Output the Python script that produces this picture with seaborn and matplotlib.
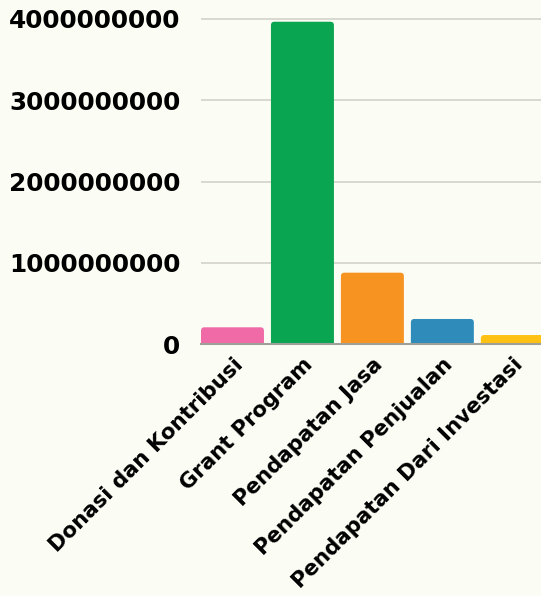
import matplotlib
matplotlib.use("Agg")
import matplotlib.pyplot as plt
import seaborn as sns
import pandas as pd
from matplotlib.ticker import FixedLocator, FuncFormatter
from matplotlib.patches import FancyBboxPatch

categories = ["Donasi dan Kontribusi", "Grant Program", "Pendapatan Jasa",
              "Pendapatan Penjualan", "Pendapatan Dari Investasi"]
values = [209000000, 3963000000, 880000000, 311000000, 114000000]
colors = ["#f06aa7", "#09a550", "#f79421", "#2e8bba", "#ffc214"]
yticks = [0, 1000000000, 2000000000, 3000000000, 4000000000]

bg = "#fbfcf4"
sns.set_theme(style="white")
plt.rcParams['font.family'] = ['DejaVu Sans']

df = pd.DataFrame({"cat": categories, "val": values})

fig = plt.figure(figsize=(5.41, 5.96), dpi=100, facecolor=bg)
ax = fig.add_axes([201/541, (596-344.3)/596, 1-201/541, 344.3/596])
ax.set_facecolor(bg)

sns.barplot(data=df, x="cat", y="val", hue="cat", palette=colors, legend=False,
            width=0.9, ax=ax, zorder=3, linewidth=0, saturation=1)

ax.set_xlim(-0.45, 4.41)
ax.set_ylim(0, 4.23e9)

# rounded top corners
fig.canvas.draw()
bbox = ax.get_window_extent()
xpp = (4.41 + 0.45) / bbox.width
ypp = 4.23e9 / bbox.height
r_px = 3.5
for p in list(ax.patches):
    x0, w, h = p.get_x(), p.get_width(), p.get_height()
    fc = p.get_facecolor()
    p.set_visible(False)
    rb = FancyBboxPatch((x0, -r_px * ypp * 2), w, h + r_px * ypp * 2,
                        boxstyle=f"round,pad=0,rounding_size={r_px * xpp}",
                        mutation_aspect=ypp / xpp, facecolor=fc,
                        linewidth=0, zorder=3, clip_on=True)
    ax.add_patch(rb)

ax.yaxis.set_major_locator(FixedLocator(yticks))
ax.yaxis.set_major_formatter(FuncFormatter(lambda v, p: f"{int(round(v))}"))
ax.grid(axis="y", color="#d3d3cc", linewidth=1.2, zorder=0)
ax.grid(axis="x", visible=False)
for s in ["top", "right", "left"]:
    ax.spines[s].set_visible(False)
ax.spines["bottom"].set_color("#a0a09a")
ax.spines["bottom"].set_linewidth(1.5)
ax.spines["bottom"].set_zorder(4)

ax.set_xlabel("")
ax.set_ylabel("")
ax.tick_params(axis="y", length=0, pad=15, labelsize=17.8, labelcolor="black")
ax.tick_params(axis="x", length=0, pad=7, labelsize=15.3, labelcolor="black")
for t in ax.get_yticklabels():
    t.set_fontweight("bold")
for t in ax.get_xticklabels():
    t.set_fontweight("bold")
    t.set_rotation(45)
    t.set_ha("right")
    t.set_rotation_mode("anchor")

fig.savefig("out.png", dpi=100, facecolor=bg)
